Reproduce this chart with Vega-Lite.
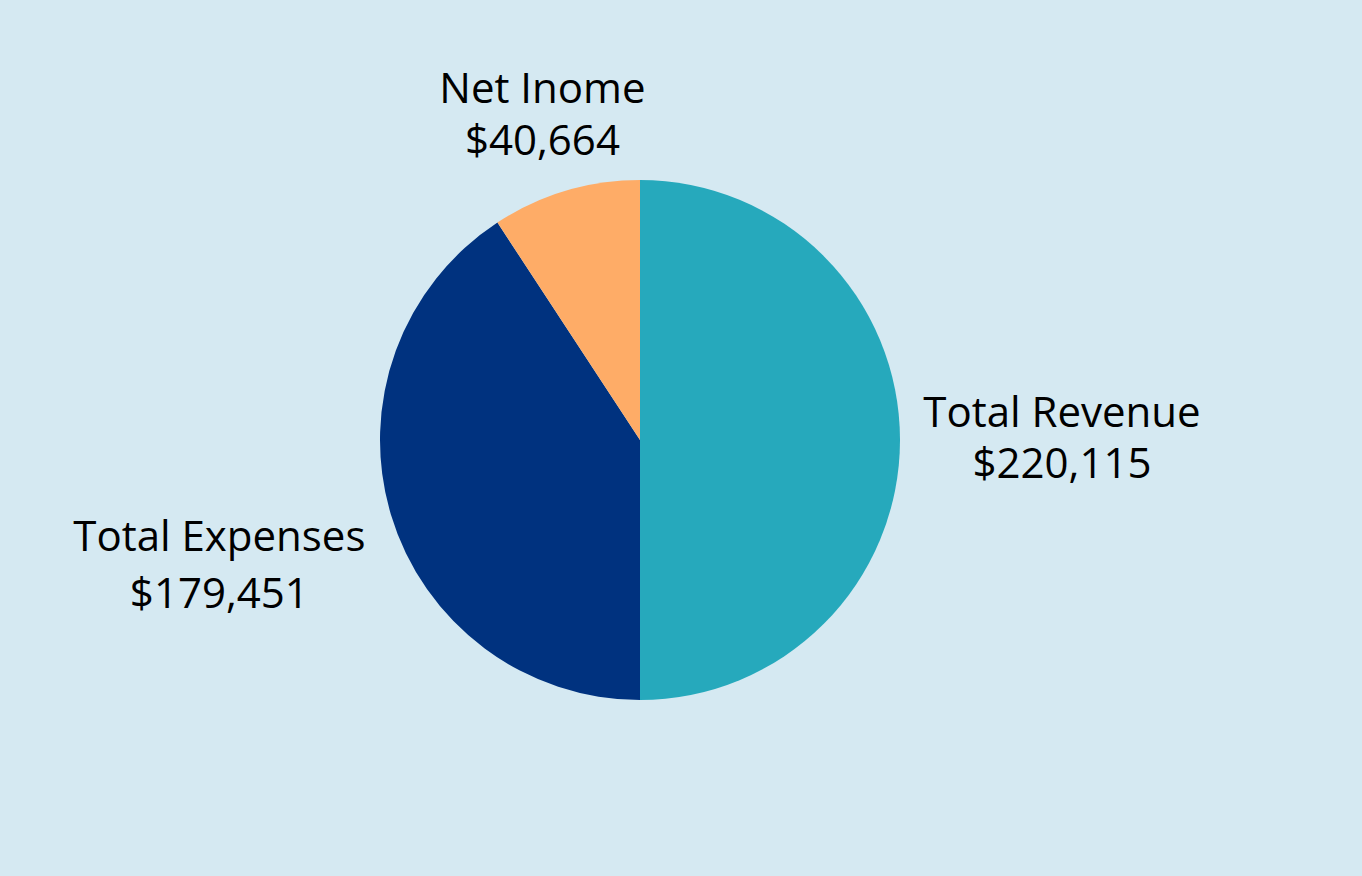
{
  "$schema": "https://vega.github.io/schema/vega-lite/v6.json",
  "width": 1280,
  "height": 872,
  "padding": {"left": 0, "right": 82, "top": 4, "bottom": 0},
  "autosize": {"type": "none"},
  "background": "#D5E9F2",
  "config": {"view": {"stroke": null}, "font": "Open Sans"},
  "data": {
    "values": [
      {"category": "Total Revenue", "amount": 220115, "display": "$220,115", "order": 1},
      {"category": "Total Expenses", "amount": 179451, "display": "$179,451", "order": 2},
      {"category": "Net Inome", "amount": 40664, "display": "$40,664", "order": 3}
    ]
  },
  "layer": [
    {
      "mark": {"type": "arc", "outerRadius": 260},
      "encoding": {
        "theta": {"field": "amount", "type": "quantitative", "stack": true},
        "order": {"field": "order", "type": "quantitative"},
        "color": {
          "field": "category",
          "type": "nominal",
          "scale": {"domain": ["Total Revenue", "Total Expenses", "Net Inome"], "range": ["#26A9BC", "#00327F", "#FEAC67"]},
          "legend": null
        }
      }
    },
    {
      "transform": [
        {"stack": "amount", "groupby": [], "sort": [{"field": "order", "order": "ascending"}], "as": ["t0", "t1"]},
        {"calculate": "(datum.t0 + datum.t1) / 2", "as": "tmid"},
        {"calculate": "[datum.category, datum.display]", "as": "lines"}
      ],
      "encoding": {
        "theta": {"field": "tmid", "type": "quantitative", "stack": null},
        "text": {"field": "lines"}
      },
      "layer": [
        {
          "transform": [{"filter": "datum.category === 'Total Revenue'"}],
          "mark": {"type": "text", "radius": 422, "dy": -26, "fontSize": 42, "lineHeight": 51, "color": "#000000", "align": "center", "baseline": "middle"}
        },
        {
          "transform": [{"filter": "datum.category === 'Total Expenses'"}],
          "mark": {"type": "text", "radius": 439, "dy": -28, "fontSize": 42, "lineHeight": 57, "color": "#000000", "align": "center", "baseline": "middle"}
        },
        {
          "transform": [{"filter": "datum.category === 'Net Inome'"}],
          "mark": {"type": "text", "radius": 341, "dy": -23, "fontSize": 42, "lineHeight": 52, "color": "#000000", "align": "center", "baseline": "middle"}
        }
      ]
    }
  ]
}
